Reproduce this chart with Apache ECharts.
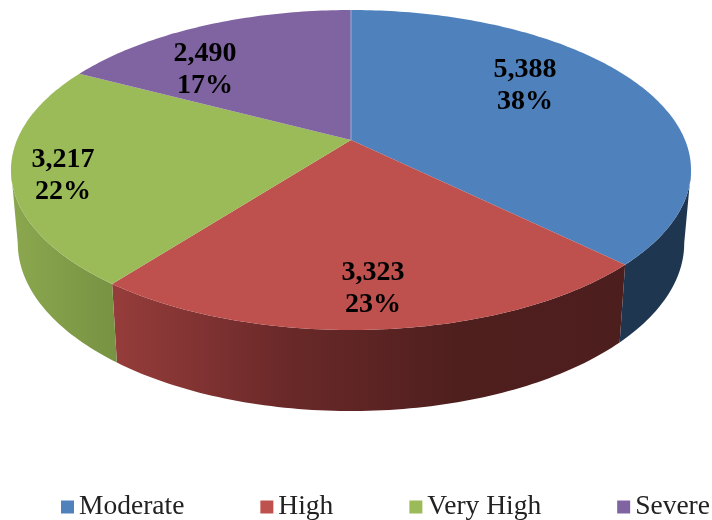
<!DOCTYPE html>
<html>
<head>
<meta charset="utf-8">
<style>html,body{margin:0;padding:0;background:#fff}#chart{width:712px;height:520px}</style>
<script src="https://cdn.jsdelivr.net/npm/echarts@6/dist/echarts.min.js"></script>
</head>
<body>
<div id="chart"></div>
<script>
// Risk categories and their counts
const categories = ['Moderate', 'High', 'Very High', 'Severe'];
const counts = [5388, 3323, 3217, 2490];
const percentLabels = ['38%', '23%', '22%', '17%'];

const topColors = ['#4f81bd', '#be504d', '#9bbb59', '#8064a2'];
const wallColors = [
  ['#1f3650', '#1f3650'],
  ['#963d3b', '#6b2929', '#4f1f1e', '#4c1e1d'],
  ['#8ba74e', '#779343'],
  ['#5f4a7a', '#5f4a7a']
];
// Label centres on the pie face, in pixels
const labelCentres = [[525, 86], [373, 289], [63, 176], [205, 70]];

// Tilted disc seen in perspective
const apex = [351, 140];
const spanX = 334, spanY = 154.4, perspective = 0.1875;
const lowerScaleX = 0.98, lowerScaleY = 1.05, lowerDrop = 71.5;
const total = counts.reduce((a, b) => a + b, 0);

// Angles where the rim turns back on itself: the wall is only visible between them
const wallStart = Math.acos(-perspective) * 180 / Math.PI;
const wallEnd = 360 - wallStart;

function rimPoint(deg) {
  const a = deg * Math.PI / 180;
  const u = Math.sin(a), v = -Math.cos(a);
  const d = 1 - perspective * v;
  return [spanX * u / d, spanY * v / d];
}
function upper(deg) {
  const p = rimPoint(deg);
  return [apex[0] + p[0], apex[1] + p[1]];
}
function lower(deg) {
  const p = rimPoint(deg);
  return [apex[0] + p[0] * lowerScaleX, apex[1] + p[1] * lowerScaleY + lowerDrop];
}
function arc(from, to, fn) {
  const pts = [];
  const n = Math.max(2, Math.ceil(to - from));
  for (let i = 0; i <= n; i++) pts.push(fn(from + (to - from) * i / n));
  return pts;
}
function wallFill(stops) {
  return {
    type: 'linear', x: 0, y: 0, x2: 1, y2: 0,
    colorStops: stops.map((c, i) => ({ offset: i / (stops.length - 1), color: c }))
  };
}

const seriesList = categories.map((name, idx) => ({
  type: 'custom',
  name: name,
  coordinateSystem: 'none',
  itemStyle: { color: topColors[idx] },
  silent: true,
  data: [counts[idx]],
  renderItem: function (params, api) {
    const before = counts.slice(0, idx).reduce((a, b) => a + b, 0);
    const from = before / total * 360;
    const to = (before + api.value(0)) / total * 360;
    const children = [];
    const wallFrom = Math.max(from, wallStart);
    const wallTo = Math.min(to, wallEnd);
    if (wallTo > wallFrom) {
      children.push({
        type: 'polygon', z2: 1,
        shape: { points: arc(wallFrom, wallTo, upper).concat(arc(wallFrom, wallTo, lower).reverse()) },
        style: { fill: wallFill(wallColors[idx]) }
      });
    }
    children.push({
      type: 'polygon', z2: 10,
      shape: { points: [apex].concat(arc(from, to, upper)) },
      style: { fill: topColors[idx] }
    });
    if (idx === 0) {
      // Pale highlight along the first slice's leading edge
      children.push({
        type: 'line', z2: 11,
        shape: { x1: apex[0], y1: apex[1], x2: upper(from)[0], y2: upper(from)[1] },
        style: { stroke: '#8fb4dc', lineWidth: 1 }
      });
    }
    children.push({
      type: 'text', z2: 20,
      x: labelCentres[idx][0], y: labelCentres[idx][1],
      style: {
        text: counts[idx].toLocaleString('en-US') + '\n' + percentLabels[idx],
        fill: '#000',
        font: 'bold 28px "Liberation Serif", serif',
        lineHeight: 32,
        align: 'center',
        verticalAlign: 'middle'
      }
    });
    return { type: 'group', children: children };
  }
}));

const chart = echarts.init(document.getElementById('chart'), null, { renderer: 'canvas' });
chart.setOption({
  backgroundColor: '#fff',
  animation: false,
  legend: {
    data: categories.map((name, i) => ({ name: name, icon: 'rect', itemStyle: { color: topColors[i] } })),
    left: 61,
    top: 493,
    width: 651,
    padding: 0,
    itemWidth: 13,
    itemHeight: 13,
    itemGap: 76,
    selectedMode: false,
    textStyle: { fontFamily: '"Liberation Serif", serif', fontSize: 27.5, color: '#222' }
  },
  series: seriesList
});
</script>
</body>
</html>
